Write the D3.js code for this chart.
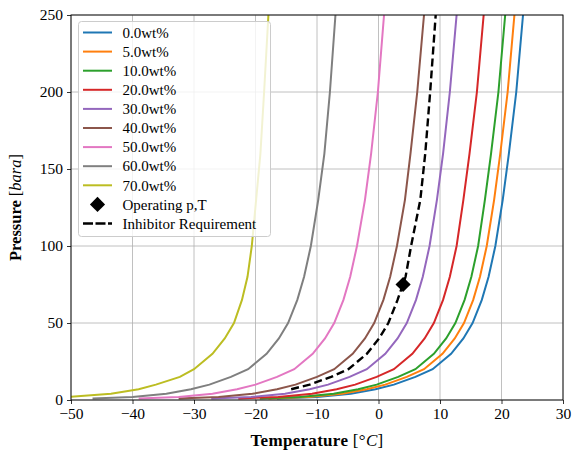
<!DOCTYPE html>
<html>
<head>
<meta charset="utf-8">
<script src="https://cdn.jsdelivr.net/npm/d3@7"></script>
<style>
  body { margin: 0; background: #fff; }
  text { font-family: "Liberation Serif", serif; fill: #000; }
</style>
</head>
<body>
<svg id="chart"></svg>
<script>
// pressure points (bara) shared by all hydrate curves
const pressures = [1, 2, 4, 7, 10, 15, 20, 30, 40, 50, 65, 80, 100, 130, 160, 200, 250];

// hydrate temperature (°C) at each pressure, per inhibitor concentration
const wt0  = [-16.5, -10, -4.5, -0.5, 2.5, 6, 8.8, 11.8, 13.8, 15.3, 16.8, 17.9, 19, 20.2, 21.2, 22.4, 23.5];
const wt5  = [-17.9, -11.4, -5.9, -1.9, 1.1, 4.6, 7.4, 10.4, 12.4, 13.9, 15.4, 16.5, 17.6, 18.8, 19.8, 21, 22.1];
const wt10 = [-19.3, -12.8, -7.3, -3.3, -0.3, 3.2, 6, 9, 11, 12.5, 14, 15.1, 16.2, 17.3, 18.3, 19.5, 20.6];
const wt20 = [-22.8, -16.3, -10.8, -6.8, -3.8, -0.3, 2.5, 5.5, 7.5, 9, 10.5, 11.6, 12.7, 13.8, 14.8, 16, 17.1];
const wt30 = [-27.2, -20.7, -15.2, -11.2, -8.2, -4.7, -1.9, 1.1, 3.1, 4.6, 6.1, 7.2, 8.3, 9.5, 10.5, 11.6, 12.7];
const wt40 = [-32.5, -26, -20.5, -16.5, -13.5, -10, -7.2, -4.2, -2.2, -0.7, 0.8, 1.9, 3, 4.3, 5.2, 6.3, 7.4];
const wt50 = [-39, -32.5, -27, -23, -20, -16.5, -13.7, -10.7, -8.7, -7.2, -5.7, -4.6, -3.5, -2.2, -1.2, -0.1, 0.9];
const wt60 = [-46.5, -40, -34.5, -30.5, -27.5, -24, -21.2, -18.2, -16.2, -14.7, -13.2, -12.1, -11, -9.8, -8.8, -7.9, -7];
const wt70 = [-57, -50.2, -43.5, -39, -36.2, -32.3, -30, -27, -25, -23.5, -22.2, -21.3, -20.6, -19.9, -19.2, -18.6, -17.9];

const seriesLabels = ["0.0wt%", "5.0wt%", "10.0wt%", "20.0wt%", "30.0wt%", "40.0wt%", "50.0wt%", "60.0wt%", "70.0wt%"];
const seriesTemps = [wt0, wt5, wt10, wt20, wt30, wt40, wt50, wt60, wt70];
const colors = ["#1f77b4", "#ff7f0e", "#2ca02c", "#d62728", "#9467bd", "#8c564b", "#e377c2", "#7f7f7f", "#bcbd22"];

// inhibitor requirement curve
const reqPressures = [7, 10, 15, 20, 30, 40, 50, 65, 80, 100, 130, 160, 200, 250];
const reqTemps = [-14.2, -11.2, -7.7, -4.9, -1.9, 0.1, 1.6, 3.1, 4.4, 5.3, 6.8, 7.6, 8.4, 9.3];

// operating point
const opTemp = 4;
const opPressure = 75;

const xTicks = [-50, -40, -30, -20, -10, 0, 10, 20, 30];
const yTicks = [0, 50, 100, 150, 200, 250];

const width = 572;
const height = 452;
const margin = { left: 71, right: 9, top: 15, bottom: 52 };

const svg = d3.select("#chart")
  .attr("width", width)
  .attr("height", height);

const x = d3.scaleLinear().domain([-50, 30]).range([margin.left, width - margin.right]);
const y = d3.scaleLinear().domain([0, 250]).range([height - margin.bottom, margin.top]);

svg.append("defs").append("clipPath")
  .attr("id", "plot-clip")
  .append("rect")
  .attr("x", x(-50)).attr("y", y(250))
  .attr("width", x(30) - x(-50)).attr("height", y(0) - y(250));

// grid
svg.append("g")
  .selectAll("line")
  .data(xTicks)
  .enter().append("line")
  .attr("x1", d => x(d)).attr("x2", d => x(d))
  .attr("y1", y(0)).attr("y2", y(250))
  .attr("stroke", "#b0b0b0").attr("stroke-width", 0.8);

svg.append("g")
  .selectAll("line")
  .data(yTicks)
  .enter().append("line")
  .attr("x1", x(-50)).attr("x2", x(30))
  .attr("y1", d => y(d)).attr("y2", d => y(d))
  .attr("stroke", "#b0b0b0").attr("stroke-width", 0.8);

const line = d3.line()
  .x(d => x(d[0]))
  .y(d => y(d[1]));

const plot = svg.append("g").attr("clip-path", "url(#plot-clip)");

seriesTemps.forEach((temps, i) => {
  plot.append("path")
    .datum(temps.map((t, j) => [t, pressures[j]]))
    .attr("d", line)
    .attr("fill", "none")
    .attr("stroke", colors[i])
    .attr("stroke-width", 2);
});

plot.append("path")
  .datum(reqTemps.map((t, j) => [t, reqPressures[j]]))
  .attr("d", line)
  .attr("fill", "none")
  .attr("stroke", "#000")
  .attr("stroke-width", 2.4)
  .attr("stroke-dasharray", "8,4");

const diamond = d3.symbol().type(d3.symbolSquare).size(115);

plot.append("path")
  .attr("d", diamond)
  .attr("transform", `translate(${x(opTemp)},${y(opPressure)}) rotate(45)`)
  .attr("fill", "#000");

// axes
const xAxis = svg.append("g")
  .attr("transform", `translate(0,${y(0)})`)
  .call(d3.axisBottom(x).tickValues(xTicks).tickSize(4).tickPadding(4));

const yAxis = svg.append("g")
  .attr("transform", `translate(${x(-50)},0)`)
  .call(d3.axisLeft(y).tickValues(yTicks).tickSize(4).tickPadding(4));

[xAxis, yAxis].forEach(axis => {
  axis.select(".domain").remove();
  axis.selectAll(".tick line").attr("stroke", "#000").attr("stroke-width", 0.8);
  axis.selectAll(".tick text")
    .style("font-family", "'Liberation Serif', serif")
    .style("font-size", "15.5px")
    .attr("fill", "#000");
});

// frame
svg.append("rect")
  .attr("x", x(-50)).attr("y", y(250))
  .attr("width", x(30) - x(-50)).attr("height", y(0) - y(250))
  .attr("fill", "none")
  .attr("stroke", "#000")
  .attr("stroke-width", 0.9);

// axis labels
const xLabel = svg.append("text")
  .attr("x", (x(-50) + x(30)) / 2)
  .attr("y", 446)
  .attr("text-anchor", "middle")
  .style("font-size", "17px")
  .style("letter-spacing", "0.3px");
xLabel.append("tspan").attr("font-weight", "bold").text("Temperature");
xLabel.append("tspan").text(" [°");
xLabel.append("tspan").attr("font-style", "italic").text("C");
xLabel.append("tspan").text("]");

const yLabel = svg.append("text")
  .attr("transform", `translate(21,${(y(0) + y(250)) / 2}) rotate(-90)`)
  .attr("text-anchor", "middle")
  .style("font-size", "16.5px");
yLabel.append("tspan").attr("font-weight", "bold").text("Pressure");
yLabel.append("tspan").text(" [");
yLabel.append("tspan").attr("font-style", "italic").text("bara");
yLabel.append("tspan").text("]");

// legend
const legend = svg.append("g");
legend.append("rect")
  .attr("x", 78.5).attr("y", 21.5)
  .attr("width", 192).attr("height", 215)
  .attr("rx", 3)
  .attr("fill", "#fff").attr("fill-opacity", 0.8)
  .attr("stroke", "#cccccc").attr("stroke-width", 1);

const rowY = i => 32.5 + i * 19.1;

seriesLabels.forEach((label, i) => {
  legend.append("line")
    .attr("x1", 83).attr("x2", 112)
    .attr("y1", rowY(i)).attr("y2", rowY(i))
    .attr("stroke", colors[i]).attr("stroke-width", 2);
  legend.append("text")
    .attr("x", 122.5).attr("y", rowY(i))
    .attr("dy", "0.35em")
    .style("font-size", "15px")
    .text(label);
});

legend.append("path")
  .attr("d", diamond)
  .attr("transform", `translate(97.5,${rowY(9)}) rotate(45)`)
  .attr("fill", "#000");
legend.append("text")
  .attr("x", 122.5).attr("y", rowY(9))
  .attr("dy", "0.35em")
  .style("font-size", "15px")
  .text("Operating p,T");

legend.append("line")
  .attr("x1", 83).attr("x2", 112)
  .attr("y1", rowY(10)).attr("y2", rowY(10))
  .attr("stroke", "#000").attr("stroke-width", 2.4)
  .attr("stroke-dasharray", "10,2.5");
legend.append("text")
  .attr("x", 122.5).attr("y", rowY(10))
  .attr("dy", "0.35em")
  .style("font-size", "15px")
  .text("Inhibitor Requirement");
</script>
</body>
</html>
